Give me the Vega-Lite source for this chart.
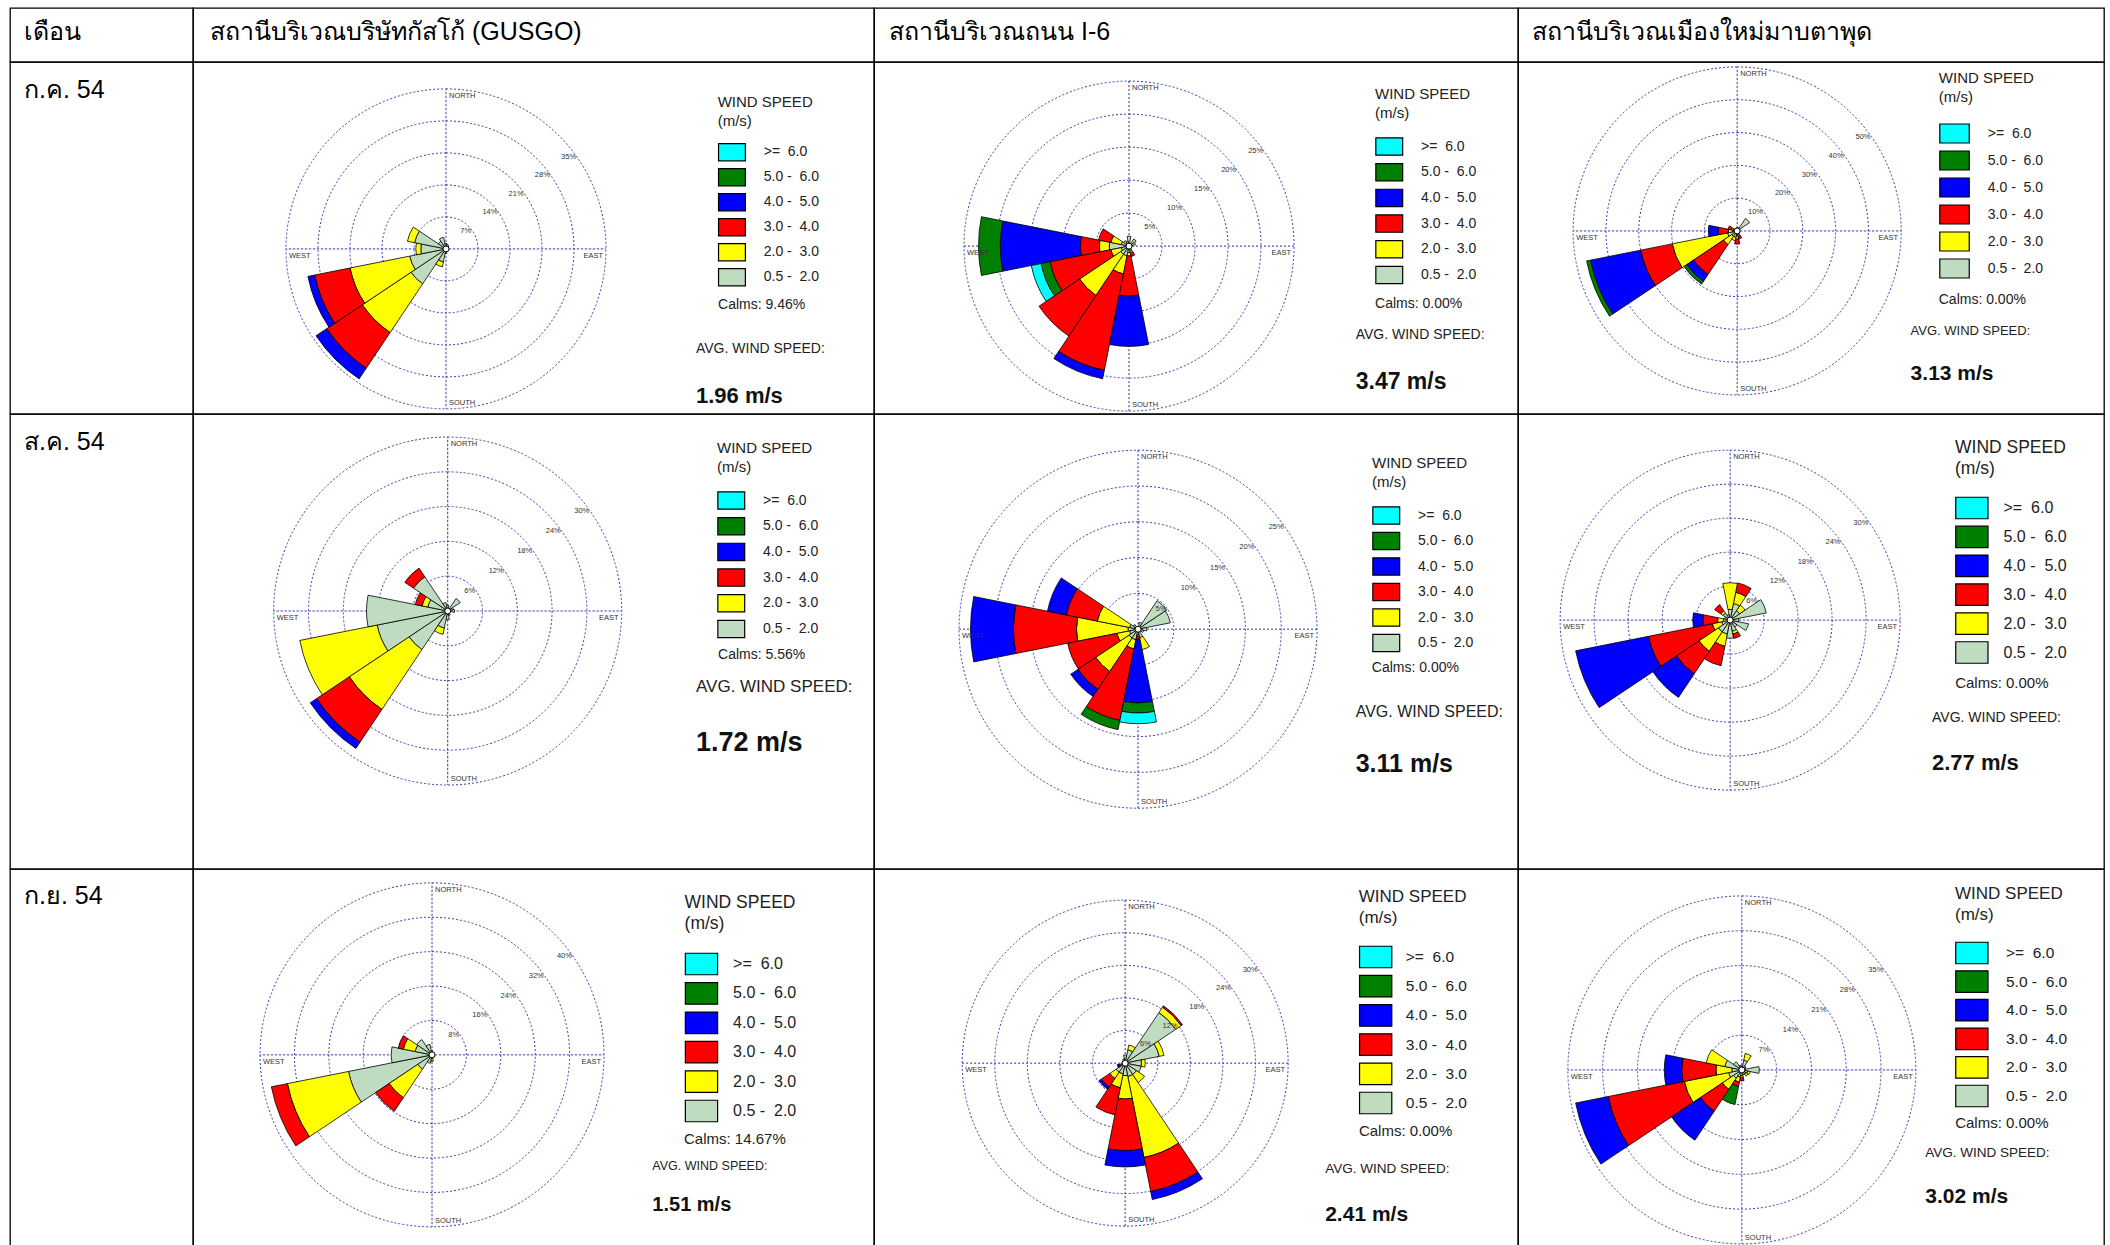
{
"$schema": "https://vega.github.io/schema/vega-lite/v6.json",
"background": "#ffffff",
"padding": {"left": 9, "top": 7, "right": 0, "bottom": 0},
"spacing": 0,
"bounds": "flush",
"align": "each",
"columns": 4,
"config": {
  "view": {"stroke": "#000000", "strokeWidth": 1.3},
  "axis": {"disable": true},
  "concat": {"spacing": 0},
  "text": {"font": "Liberation Sans", "color": "#222222"},
  "legend": {"titleFont": "Liberation Sans", "labelFont": "Liberation Sans", "titleFontWeight": "normal", "titleColor": "#222222", "labelColor": "#222222", "symbolStrokeColor": "#000000", "symbolStrokeWidth": 1.2, "symbolOpacity": 1, "titleAnchor": "start", "titleLimit": 0, "labelLimit": 0, "padding": 0}
},
"datasets": {
  "sectors": [
    {"d": 0, "a0": -11.25, "a1": 11.25}, {"d": 22.5, "a0": 11.25, "a1": 33.75}, {"d": 45, "a0": 33.75, "a1": 56.25}, {"d": 67.5, "a0": 56.25, "a1": 78.75},
    {"d": 90, "a0": 78.75, "a1": 101.25}, {"d": 112.5, "a0": 101.25, "a1": 123.75}, {"d": 135, "a0": 123.75, "a1": 146.25}, {"d": 157.5, "a0": 146.25, "a1": 168.75},
    {"d": 180, "a0": 168.75, "a1": 191.25}, {"d": 202.5, "a0": 191.25, "a1": 213.75}, {"d": 225, "a0": 213.75, "a1": 236.25}, {"d": 247.5, "a0": 236.25, "a1": 258.75},
    {"d": 270, "a0": 258.75, "a1": 281.25}, {"d": 292.5, "a0": 281.25, "a1": 303.75}, {"d": 315, "a0": 303.75, "a1": 326.25}, {"d": 337.5, "a0": 326.25, "a1": 348.75}
  ],
  "dirs": [{"d": 0, "t": "NORTH"}, {"d": 90, "t": "EAST"}, {"d": 180, "t": "SOUTH"}, {"d": 270, "t": "WEST"}],
  "info": [
    {"m": 7, "s": "G", "calm": "Calms: 9.46%", "avg": "1.96 m/s"},
    {"m": 7, "s": "I", "calm": "Calms: 0.00%", "avg": "3.47 m/s"},
    {"m": 7, "s": "M", "calm": "Calms: 0.00%", "avg": "3.13 m/s"},
    {"m": 8, "s": "G", "calm": "Calms: 5.56%", "avg": "1.72 m/s"},
    {"m": 8, "s": "I", "calm": "Calms: 0.00%", "avg": "3.11 m/s"},
    {"m": 8, "s": "M", "calm": "Calms: 0.00%", "avg": "2.77 m/s"},
    {"m": 9, "s": "G", "calm": "Calms: 14.67%", "avg": "1.51 m/s"},
    {"m": 9, "s": "I", "calm": "Calms: 0.00%", "avg": "2.41 m/s"},
    {"m": 9, "s": "M", "calm": "Calms: 0.00%", "avg": "3.02 m/s"}
  ],
  "rings": [
    {"m": 7, "s": "G", "r": 7, "lab": "7%"}, {"m": 7, "s": "G", "r": 14, "lab": "14%"}, {"m": 7, "s": "G", "r": 21, "lab": "21%"}, {"m": 7, "s": "G", "r": 28, "lab": "28%"}, {"m": 7, "s": "G", "r": 35, "lab": "35%"},
    {"m": 7, "s": "I", "r": 5, "lab": "5%"}, {"m": 7, "s": "I", "r": 10, "lab": "10%"}, {"m": 7, "s": "I", "r": 15, "lab": "15%"}, {"m": 7, "s": "I", "r": 20, "lab": "20%"}, {"m": 7, "s": "I", "r": 25, "lab": "25%"},
    {"m": 7, "s": "M", "r": 10, "lab": "10%"}, {"m": 7, "s": "M", "r": 20, "lab": "20%"}, {"m": 7, "s": "M", "r": 30, "lab": "30%"}, {"m": 7, "s": "M", "r": 40, "lab": "40%"}, {"m": 7, "s": "M", "r": 50, "lab": "50%"},
    {"m": 8, "s": "G", "r": 6, "lab": "6%"}, {"m": 8, "s": "G", "r": 12, "lab": "12%"}, {"m": 8, "s": "G", "r": 18, "lab": "18%"}, {"m": 8, "s": "G", "r": 24, "lab": "24%"}, {"m": 8, "s": "G", "r": 30, "lab": "30%"},
    {"m": 8, "s": "I", "r": 5, "lab": "5%"}, {"m": 8, "s": "I", "r": 10, "lab": "10%"}, {"m": 8, "s": "I", "r": 15, "lab": "15%"}, {"m": 8, "s": "I", "r": 20, "lab": "20%"}, {"m": 8, "s": "I", "r": 25, "lab": "25%"},
    {"m": 8, "s": "M", "r": 6, "lab": "6%"}, {"m": 8, "s": "M", "r": 12, "lab": "12%"}, {"m": 8, "s": "M", "r": 18, "lab": "18%"}, {"m": 8, "s": "M", "r": 24, "lab": "24%"}, {"m": 8, "s": "M", "r": 30, "lab": "30%"},
    {"m": 9, "s": "G", "r": 8, "lab": "8%"}, {"m": 9, "s": "G", "r": 16, "lab": "16%"}, {"m": 9, "s": "G", "r": 24, "lab": "24%"}, {"m": 9, "s": "G", "r": 32, "lab": "32%"}, {"m": 9, "s": "G", "r": 40, "lab": "40%"},
    {"m": 9, "s": "I", "r": 6, "lab": "6%"}, {"m": 9, "s": "I", "r": 12, "lab": "12%"}, {"m": 9, "s": "I", "r": 18, "lab": "18%"}, {"m": 9, "s": "I", "r": 24, "lab": "24%"}, {"m": 9, "s": "I", "r": 30, "lab": "30%"},
    {"m": 9, "s": "M", "r": 7, "lab": "7%"}, {"m": 9, "s": "M", "r": 14, "lab": "14%"}, {"m": 9, "s": "M", "r": 21, "lab": "21%"}, {"m": 9, "s": "M", "r": 28, "lab": "28%"}, {"m": 9, "s": "M", "r": 35, "lab": "35%"}
  ],
  "wind": [
    {"m": 7, "s": "G", "d": 225, "c1": 9.2, "c2": 12.8, "c3": 9.4, "c4": 2.8},
    {"m": 7, "s": "G", "d": 247.5, "c1": 8.1, "c2": 13.3, "c3": 7.9, "c4": 1.5},
    {"m": 7, "s": "G", "d": 270, "c1": 5.5, "c2": 1.1},
    {"m": 7, "s": "G", "d": 292.5, "c1": 7.0, "c2": 1.6},
    {"m": 7, "s": "G", "d": 315, "c1": 2.0},
    {"m": 7, "s": "G", "d": 337.5, "c1": 2.6},
    {"m": 7, "s": "G", "d": 0, "c1": 1.2},
    {"m": 7, "s": "G", "d": 22.5, "c1": 1.0},
    {"m": 7, "s": "G", "d": 45, "c1": 0.8},
    {"m": 7, "s": "G", "d": 112.5, "c1": 0.5},
    {"m": 7, "s": "G", "d": 135, "c1": 0.5},
    {"m": 7, "s": "G", "d": 157.5, "c1": 0.6},
    {"m": 7, "s": "G", "d": 180, "c1": 1.0},
    {"m": 7, "s": "G", "d": 202.5, "c1": 2.9, "c2": 1.1},

    {"m": 7, "s": "I", "d": 270, "c1": 3.0, "c2": 1.5, "c3": 2.9, "c4": 12.1, "c5": 3.3},
    {"m": 7, "s": "I", "d": 292.5, "c1": 1.2, "c2": 1.6, "c3": 1.9},
    {"m": 7, "s": "I", "d": 247.5, "c1": 1.2, "c2": 1.6, "c3": 9.4, "c5": 1.4, "c6": 1.5},
    {"m": 7, "s": "I", "d": 225, "c1": 1.5, "c2": 7.5, "c3": 7.4},
    {"m": 7, "s": "I", "d": 202.5, "c1": 1.5, "c2": 2.8, "c3": 14.9, "c4": 1.3},
    {"m": 7, "s": "I", "d": 180, "c1": 1.0, "c2": 0.5, "c3": 6.1, "c4": 7.6},
    {"m": 7, "s": "I", "d": 157.5, "c1": 0.8, "c2": 0.3, "c3": 0.5},
    {"m": 7, "s": "I", "d": 45, "c1": 1.3},
    {"m": 7, "s": "I", "d": 67.5, "c1": 1.0},
    {"m": 7, "s": "I", "d": 0, "c1": 1.5},
    {"m": 7, "s": "I", "d": 315, "c1": 1.0},
    {"m": 7, "s": "I", "d": 337.5, "c1": 0.8},

    {"m": 7, "s": "M", "d": 247.5, "c1": 3.0, "c2": 17.2, "c3": 9.8, "c4": 15.6, "c5": 1.2},
    {"m": 7, "s": "M", "d": 225, "c1": 2.0, "c2": 3.0, "c3": 11.0, "c4": 2.5, "c5": 1.0},
    {"m": 7, "s": "M", "d": 270, "c1": 1.5, "c2": 1.2, "c3": 3.1, "c4": 3.0},
    {"m": 7, "s": "M", "d": 292.5, "c1": 1.2, "c2": 0.6, "c3": 1.0},
    {"m": 7, "s": "M", "d": 45, "c1": 4.6},
    {"m": 7, "s": "M", "d": 180, "c1": 1.5, "c2": 1.0, "c3": 1.5},
    {"m": 7, "s": "M", "d": 157.5, "c1": 1.2, "c2": 0.5, "c3": 0.8},
    {"m": 7, "s": "M", "d": 202.5, "c1": 2.0, "c2": 1.0},
    {"m": 7, "s": "M", "d": 0, "c1": 1.0},
    {"m": 7, "s": "M", "d": 22.5, "c1": 1.0},

    {"m": 8, "s": "G", "d": 225, "c1": 8.0, "c2": 12.4, "c3": 6.8, "c4": 1.3},
    {"m": 8, "s": "G", "d": 247.5, "c1": 12.4, "c2": 13.6},
    {"m": 8, "s": "G", "d": 270, "c1": 14.0},
    {"m": 8, "s": "G", "d": 292.5, "c1": 3.5, "c2": 1.0, "c3": 1.2},
    {"m": 8, "s": "G", "d": 315, "c1": 7.1, "c3": 1.8},
    {"m": 8, "s": "G", "d": 337.5, "c1": 1.5},
    {"m": 8, "s": "G", "d": 0, "c1": 1.0},
    {"m": 8, "s": "G", "d": 45, "c1": 2.6},
    {"m": 8, "s": "G", "d": 67.5, "c1": 1.0},
    {"m": 8, "s": "G", "d": 90, "c1": 1.2},
    {"m": 8, "s": "G", "d": 157.5, "c1": 0.8},
    {"m": 8, "s": "G", "d": 180, "c1": 1.5},
    {"m": 8, "s": "G", "d": 202.5, "c1": 3.0, "c2": 1.1},

    {"m": 8, "s": "I", "d": 270, "c1": 1.4, "c2": 7.2, "c3": 8.8, "c4": 6.0},
    {"m": 8, "s": "I", "d": 292.5, "c1": 1.2, "c2": 4.6, "c3": 4.4, "c4": 2.7},
    {"m": 8, "s": "I", "d": 247.5, "c1": 1.2, "c2": 1.8, "c3": 7.0},
    {"m": 8, "s": "I", "d": 225, "c1": 1.5, "c2": 5.6, "c3": 3.0, "c4": 1.2},
    {"m": 8, "s": "I", "d": 202.5, "c1": 1.5, "c2": 1.3, "c3": 10.2, "c5": 1.3},
    {"m": 8, "s": "I", "d": 180, "c1": 0.8, "c2": 0.2, "c3": 0.4, "c4": 8.9, "c5": 1.4, "c6": 1.5},
    {"m": 8, "s": "I", "d": 157.5, "c1": 1.2, "c2": 1.7},
    {"m": 8, "s": "I", "d": 45, "c1": 4.8},
    {"m": 8, "s": "I", "d": 67.5, "c1": 4.6},
    {"m": 8, "s": "I", "d": 90, "c1": 1.2},
    {"m": 8, "s": "I", "d": 112.5, "c1": 0.8},
    {"m": 8, "s": "I", "d": 22.5, "c1": 1.0},
    {"m": 8, "s": "I", "d": 315, "c1": 0.8},

    {"m": 8, "s": "M", "d": 247.5, "c1": 1.5, "c2": 1.7, "c3": 11.5, "c4": 13.1},
    {"m": 8, "s": "M", "d": 225, "c1": 2.5, "c2": 4.1, "c3": 4.8, "c4": 5.0},
    {"m": 8, "s": "M", "d": 202.5, "c1": 2.5, "c2": 2.2, "c3": 3.5},
    {"m": 8, "s": "M", "d": 180, "c1": 3.2},
    {"m": 8, "s": "M", "d": 157.5, "c1": 2.0, "c2": 0.5, "c3": 0.8},
    {"m": 8, "s": "M", "d": 135, "c1": 1.5},
    {"m": 8, "s": "M", "d": 112.5, "c1": 3.3},
    {"m": 8, "s": "M", "d": 90, "c1": 1.5},
    {"m": 8, "s": "M", "d": 67.5, "c1": 6.5},
    {"m": 8, "s": "M", "d": 45, "c1": 2.0, "c2": 1.2},
    {"m": 8, "s": "M", "d": 22.5, "c1": 3.0, "c2": 2.0, "c3": 1.7},
    {"m": 8, "s": "M", "d": 0, "c1": 1.9, "c2": 4.7},
    {"m": 8, "s": "M", "d": 337.5, "c1": 1.0},
    {"m": 8, "s": "M", "d": 315, "c1": 1.5, "c2": 0.5, "c3": 1.3},
    {"m": 8, "s": "M", "d": 292.5, "c1": 1.0},
    {"m": 8, "s": "M", "d": 270, "c1": 1.2, "c2": 1.0, "c3": 2.6, "c4": 1.8},

    {"m": 9, "s": "G", "d": 247.5, "c1": 19.8, "c2": 14.5, "c3": 3.8},
    {"m": 9, "s": "G", "d": 225, "c1": 4.0, "c2": 8.0, "c3": 3.8},
    {"m": 9, "s": "G", "d": 270, "c1": 9.5},
    {"m": 9, "s": "G", "d": 292.5, "c1": 4.0, "c2": 2.8, "c3": 1.2},
    {"m": 9, "s": "G", "d": 315, "c1": 4.3},
    {"m": 9, "s": "G", "d": 337.5, "c1": 2.5},
    {"m": 9, "s": "G", "d": 0, "c1": 1.0},
    {"m": 9, "s": "G", "d": 22.5, "c1": 0.6},
    {"m": 9, "s": "G", "d": 180, "c1": 0.8, "c2": 0.7},
    {"m": 9, "s": "G", "d": 202.5, "c1": 2.0},

    {"m": 9, "s": "I", "d": 157.5, "c1": 2.5, "c2": 15.2, "c3": 6.4, "c4": 1.5},
    {"m": 9, "s": "I", "d": 180, "c1": 2.3, "c2": 4.3, "c3": 9.5, "c4": 3.0},
    {"m": 9, "s": "I", "d": 202.5, "c1": 2.0, "c2": 2.6, "c3": 5.1},
    {"m": 9, "s": "I", "d": 225, "c1": 2.0, "c2": 1.4, "c3": 1.9, "c4": 0.5},
    {"m": 9, "s": "I", "d": 247.5, "c1": 0.8, "c2": 0.2, "c3": 0.2, "c4": 0.3},
    {"m": 9, "s": "I", "d": 270, "c1": 0.6},
    {"m": 9, "s": "I", "d": 292.5, "c1": 0.5},
    {"m": 9, "s": "I", "d": 315, "c1": 0.6},
    {"m": 9, "s": "I", "d": 337.5, "c1": 0.8},
    {"m": 9, "s": "I", "d": 0, "c1": 1.5},
    {"m": 9, "s": "I", "d": 22.5, "c1": 2.5, "c2": 0.9},
    {"m": 9, "s": "I", "d": 45, "c1": 11.2, "c2": 1.2, "c3": 0.3},
    {"m": 9, "s": "I", "d": 67.5, "c1": 6.4, "c2": 0.9},
    {"m": 9, "s": "I", "d": 90, "c1": 3.0, "c2": 0.7},
    {"m": 9, "s": "I", "d": 112.5, "c1": 3.0},
    {"m": 9, "s": "I", "d": 135, "c1": 2.5, "c2": 1.8},

    {"m": 9, "s": "M", "d": 247.5, "c1": 2.7, "c2": 9.1, "c3": 15.6, "c4": 6.7},
    {"m": 9, "s": "M", "d": 270, "c1": 2.0, "c2": 3.2, "c3": 6.9, "c4": 3.5},
    {"m": 9, "s": "M", "d": 225, "c1": 2.0, "c2": 2.7, "c3": 5.3, "c4": 7.0},
    {"m": 9, "s": "M", "d": 202.5, "c1": 1.5, "c2": 1.0, "c3": 0.9, "c5": 3.7},
    {"m": 9, "s": "M", "d": 292.5, "c1": 3.5, "c2": 3.8},
    {"m": 9, "s": "M", "d": 315, "c1": 2.0},
    {"m": 9, "s": "M", "d": 337.5, "c1": 1.0},
    {"m": 9, "s": "M", "d": 0, "c1": 0.8},
    {"m": 9, "s": "M", "d": 22.5, "c1": 2.0, "c2": 1.4},
    {"m": 9, "s": "M", "d": 45, "c1": 1.0},
    {"m": 9, "s": "M", "d": 67.5, "c1": 0.8},
    {"m": 9, "s": "M", "d": 90, "c1": 3.5},
    {"m": 9, "s": "M", "d": 112.5, "c1": 1.2, "c2": 0.5},
    {"m": 9, "s": "M", "d": 135, "c1": 1.0, "c2": 0.5},
    {"m": 9, "s": "M", "d": 157.5, "c1": 1.0},
    {"m": 9, "s": "M", "d": 180, "c1": 1.2, "c2": 0.4, "c3": 0.6}
  ]
},
"resolve": {"scale": {"x": "independent", "y": "independent", "theta": "independent", "radius": "independent", "color": "independent"}, "legend": {"color": "independent"}},
"concat": [
  {"width": 183, "height": 54, "data": {"values": [{"t": "เดือน"}]}, "mark": {"type": "text", "align": "left", "baseline": "middle", "dx": 14, "font": "sans-serif", "fontSize": 25, "color": "#000000"}, "encoding": {"x": {"datum": 0, "type": "quantitative", "scale": {"domain": [0, 1], "nice": false, "zero": false}}, "y": {"datum": 0.45, "type": "quantitative", "scale": {"domain": [0, 1], "nice": false, "zero": false, "reverse": true}}, "text": {"field": "t"}}},
  {"width": 681, "height": 54, "data": {"values": [{"t": "สถานีบริเวณบริษัทกัสโก้ (GUSGO)"}]}, "mark": {"type": "text", "align": "left", "baseline": "middle", "dx": 17, "font": "sans-serif", "fontSize": 25, "color": "#000000"}, "encoding": {"x": {"datum": 0, "type": "quantitative", "scale": {"domain": [0, 1], "nice": false, "zero": false}}, "y": {"datum": 0.45, "type": "quantitative", "scale": {"domain": [0, 1], "nice": false, "zero": false, "reverse": true}}, "text": {"field": "t"}}},
  {"width": 644, "height": 54, "data": {"values": [{"t": "สถานีบริเวณถนน I-6"}]}, "mark": {"type": "text", "align": "left", "baseline": "middle", "dx": 15, "font": "sans-serif", "fontSize": 25, "color": "#000000"}, "encoding": {"x": {"datum": 0, "type": "quantitative", "scale": {"domain": [0, 1], "nice": false, "zero": false}}, "y": {"datum": 0.45, "type": "quantitative", "scale": {"domain": [0, 1], "nice": false, "zero": false, "reverse": true}}, "text": {"field": "t"}}},
  {"width": 586, "height": 54, "data": {"values": [{"t": "สถานีบริเวณเมืองใหม่มาบตาพุด"}]}, "mark": {"type": "text", "align": "left", "baseline": "middle", "dx": 14, "font": "sans-serif", "fontSize": 25, "color": "#000000"}, "encoding": {"x": {"datum": 0, "type": "quantitative", "scale": {"domain": [0, 1], "nice": false, "zero": false}}, "y": {"datum": 0.45, "type": "quantitative", "scale": {"domain": [0, 1], "nice": false, "zero": false, "reverse": true}}, "text": {"field": "t"}}},

  {"width": 183, "height": 352, "data": {"values": [{"t": "ก.ค. 54"}]}, "mark": {"type": "text", "align": "left", "baseline": "middle", "dx": 14, "font": "sans-serif", "fontSize": 25, "color": "#000000"}, "encoding": {"x": {"datum": 0, "type": "quantitative", "scale": {"domain": [0, 1], "nice": false, "zero": false}}, "y": {"datum": 0.0795, "type": "quantitative", "scale": {"domain": [0, 1], "nice": false, "zero": false, "reverse": true}}, "text": {"field": "t"}}},
  {"width": 681, "height": 352,
   "encoding": {"x": {"datum": 0.3715, "type": "quantitative", "scale": {"domain": [0, 1], "nice": false, "zero": false}}, "y": {"datum": 0.531, "type": "quantitative", "scale": {"domain": [0, 1], "nice": false, "zero": false, "reverse": true}}},
   "layer": [
    {"data": {"name": "rings"}, "transform": [{"filter": "datum.m == 7 && datum.s == 'G'"}], "mark": {"type": "arc", "theta": 0, "theta2": 6.2832, "filled": false, "stroke": "#3c3caa", "strokeWidth": 1, "strokeDash": [2, 2]}, "encoding": {"radius": {"field": "r", "type": "quantitative", "stack": null, "scale": {"type": "linear", "domain": [0, 35], "range": [0, 160], "nice": false, "zero": true}}}},
    {"data": {"name": "dirs"}, "mark": {"type": "arc", "filled": false, "stroke": "#3c3caa", "strokeWidth": 1, "strokeDash": [1.2, 2.8]}, "encoding": {"theta": {"field": "d", "type": "quantitative", "stack": null, "scale": {"domain": [0, 360], "range": [0, 6.283185307179586], "nice": false, "zero": false}}, "theta2": {"field": "d"}, "radius": {"datum": 35, "type": "quantitative", "scale": {"type": "linear", "domain": [0, 35], "range": [0, 160], "nice": false, "zero": true}}, "radius2": {"datum": 0}}},
    {"data": {"name": "wind"}, "transform": [{"filter": "datum.m == 7 && datum.s == 'G'"}, {"fold": ["c1", "c2", "c3", "c4", "c5", "c6"], "as": ["key", "f"]}, {"filter": "datum.f > 0"}, {"lookup": "d", "from": {"data": {"name": "sectors"}, "key": "d", "fields": ["a0", "a1"]}}, {"stack": "f", "groupby": ["d"], "sort": [{"field": "key", "order": "ascending"}], "as": ["r0", "r1"]}],
     "mark": {"type": "arc", "stroke": "#000000", "strokeWidth": 0.8},
     "encoding": {"theta": {"field": "a0", "type": "quantitative", "stack": null, "scale": {"domain": [0, 360], "range": [0, 6.283185307179586], "nice": false, "zero": false}}, "theta2": {"field": "a1"}, "radius": {"field": "r1", "type": "quantitative", "stack": null, "scale": {"type": "linear", "domain": [0, 35], "range": [0, 160], "nice": false, "zero": true}}, "radius2": {"field": "r0"},
      "color": {"field": "key", "type": "nominal", "scale": {"domain": ["c6", "c5", "c4", "c3", "c2", "c1"], "range": ["#00ffff", "#008000", "#0000ff", "#ff0000", "#ffff00", "#c0dcc0"]},
       "legend": {"orient": "none", "legendX": 524.7, "legendY": 32.7, "title": ["WIND SPEED", "(m/s)"], "titleFontSize": 15, "titleLineHeight": 19, "titlePadding": 14, "labelFontSize": 14, "symbolSize": 300, "symbolType": "M-1,-1H2.1V1H-1Z", "labelOffset": 27, "rowPadding": 2.0, "labelExpr": "datum.label == 'c6' ? '>=\u00a0\u00a06.0' : datum.label == 'c5' ? '\u00a05.0 -\u00a0\u00a06.0' : datum.label == 'c4' ? '\u00a04.0 -\u00a0\u00a05.0' : datum.label == 'c3' ? '\u00a03.0 -\u00a0\u00a04.0' : datum.label == 'c2' ? '\u00a02.0 -\u00a0\u00a03.0' : '\u00a00.5 -\u00a0\u00a02.0'"}}}},
    {"data": {"values": [{}]}, "mark": {"type": "point", "shape": "circle", "size": 36, "filled": true, "fill": "#ffffff", "stroke": "#000000", "strokeWidth": 1, "opacity": 1}},
    {"data": {"name": "rings"}, "transform": [{"filter": "datum.m == 7 && datum.s == 'G'"}], "mark": {"type": "text", "align": "right", "baseline": "middle", "fontSize": 7.5, "color": "#333333", "dx": -1}, "encoding": {"theta": {"datum": 55, "type": "quantitative", "scale": {"domain": [0, 360], "range": [0, 6.283185307179586], "nice": false, "zero": false}}, "radius": {"field": "r", "type": "quantitative", "scale": {"type": "linear", "domain": [0, 35], "range": [0, 160], "nice": false, "zero": true}}, "text": {"field": "lab"}}},
    {"data": {"name": "dirs"}, "mark": {"type": "text", "fontSize": 7.5, "color": "#333333", "align": {"expr": "datum.t == 'EAST' ? 'right' : 'left'"}, "baseline": {"expr": "datum.t == 'SOUTH' ? 'bottom' : 'top'"}, "dx": {"expr": "datum.t == 'EAST' ? -3 : 3"}, "dy": {"expr": "datum.t == 'SOUTH' ? -2 : 3"}}, "encoding": {"theta": {"field": "d", "type": "quantitative", "scale": {"domain": [0, 360], "range": [0, 6.283185307179586], "nice": false, "zero": false}}, "radius": {"datum": 35, "type": "quantitative", "scale": {"type": "linear", "domain": [0, 35], "range": [0, 160], "nice": false, "zero": true}}, "text": {"field": "t"}}},
    {"data": {"name": "info"}, "transform": [{"filter": "datum.m == 7 && datum.s == 'G'"}], "mark": {"type": "text", "align": "left", "baseline": "middle", "fontSize": 14}, "encoding": {"x": {"datum": 0.771, "type": "quantitative", "scale": {"domain": [0, 1], "nice": false, "zero": false}}, "y": {"datum": 0.69, "type": "quantitative", "scale": {"domain": [0, 1], "nice": false, "zero": false, "reverse": true}}, "text": {"field": "calm"}}},
    {"data": {"values": [{}]}, "mark": {"type": "text", "text": "AVG. WIND SPEED:", "align": "left", "baseline": "middle", "fontSize": 14}, "encoding": {"x": {"datum": 0.7386, "type": "quantitative", "scale": {"domain": [0, 1], "nice": false, "zero": false}}, "y": {"datum": 0.815, "type": "quantitative", "scale": {"domain": [0, 1], "nice": false, "zero": false, "reverse": true}}}},
    {"data": {"name": "info"}, "transform": [{"filter": "datum.m == 7 && datum.s == 'G'"}], "mark": {"type": "text", "align": "left", "baseline": "middle", "fontSize": 22, "fontWeight": "bold", "color": "#111111"}, "encoding": {"x": {"datum": 0.7386, "type": "quantitative", "scale": {"domain": [0, 1], "nice": false, "zero": false}}, "y": {"datum": 0.949, "type": "quantitative", "scale": {"domain": [0, 1], "nice": false, "zero": false, "reverse": true}}, "text": {"field": "avg"}}}
   ]},
  {"width": 644, "height": 352,
   "encoding": {"x": {"datum": 0.396, "type": "quantitative", "scale": {"domain": [0, 1], "nice": false, "zero": false}}, "y": {"datum": 0.523, "type": "quantitative", "scale": {"domain": [0, 1], "nice": false, "zero": false, "reverse": true}}},
   "layer": [
    {"data": {"name": "rings"}, "transform": [{"filter": "datum.m == 7 && datum.s == 'I'"}], "mark": {"type": "arc", "theta": 0, "theta2": 6.2832, "filled": false, "stroke": "#3c3caa", "strokeWidth": 1, "strokeDash": [2, 2]}, "encoding": {"radius": {"field": "r", "type": "quantitative", "stack": null, "scale": {"type": "linear", "domain": [0, 25], "range": [0, 165], "nice": false, "zero": true}}}},
    {"data": {"name": "dirs"}, "mark": {"type": "arc", "filled": false, "stroke": "#3c3caa", "strokeWidth": 1, "strokeDash": [1.2, 2.8]}, "encoding": {"theta": {"field": "d", "type": "quantitative", "stack": null, "scale": {"domain": [0, 360], "range": [0, 6.283185307179586], "nice": false, "zero": false}}, "theta2": {"field": "d"}, "radius": {"datum": 25, "type": "quantitative", "scale": {"type": "linear", "domain": [0, 25], "range": [0, 165], "nice": false, "zero": true}}, "radius2": {"datum": 0}}},
    {"data": {"name": "wind"}, "transform": [{"filter": "datum.m == 7 && datum.s == 'I'"}, {"fold": ["c1", "c2", "c3", "c4", "c5", "c6"], "as": ["key", "f"]}, {"filter": "datum.f > 0"}, {"lookup": "d", "from": {"data": {"name": "sectors"}, "key": "d", "fields": ["a0", "a1"]}}, {"stack": "f", "groupby": ["d"], "sort": [{"field": "key", "order": "ascending"}], "as": ["r0", "r1"]}],
     "mark": {"type": "arc", "stroke": "#000000", "strokeWidth": 0.8},
     "encoding": {"theta": {"field": "a0", "type": "quantitative", "stack": null, "scale": {"domain": [0, 360], "range": [0, 6.283185307179586], "nice": false, "zero": false}}, "theta2": {"field": "a1"}, "radius": {"field": "r1", "type": "quantitative", "stack": null, "scale": {"type": "linear", "domain": [0, 25], "range": [0, 165], "nice": false, "zero": true}}, "radius2": {"field": "r0"},
      "color": {"field": "key", "type": "nominal", "scale": {"domain": ["c6", "c5", "c4", "c3", "c2", "c1"], "range": ["#00ffff", "#008000", "#0000ff", "#ff0000", "#ffff00", "#c0dcc0"]},
       "legend": {"orient": "none", "legendX": 501, "legendY": 25, "title": ["WIND SPEED", "(m/s)"], "titleFontSize": 15, "titleLineHeight": 19, "titlePadding": 16, "labelFontSize": 14, "symbolSize": 300, "symbolType": "M-1,-1H2.1V1H-1Z", "labelOffset": 27, "rowPadding": 2.7, "labelExpr": "datum.label == 'c6' ? '>=\u00a0\u00a06.0' : datum.label == 'c5' ? '\u00a05.0 -\u00a0\u00a06.0' : datum.label == 'c4' ? '\u00a04.0 -\u00a0\u00a05.0' : datum.label == 'c3' ? '\u00a03.0 -\u00a0\u00a04.0' : datum.label == 'c2' ? '\u00a02.0 -\u00a0\u00a03.0' : '\u00a00.5 -\u00a0\u00a02.0'"}}}},
    {"data": {"values": [{}]}, "mark": {"type": "point", "shape": "circle", "size": 36, "filled": true, "fill": "#ffffff", "stroke": "#000000", "strokeWidth": 1, "opacity": 1}},
    {"data": {"name": "rings"}, "transform": [{"filter": "datum.m == 7 && datum.s == 'I'"}], "mark": {"type": "text", "align": "right", "baseline": "middle", "fontSize": 7.5, "color": "#333333", "dx": -1}, "encoding": {"theta": {"datum": 55, "type": "quantitative", "scale": {"domain": [0, 360], "range": [0, 6.283185307179586], "nice": false, "zero": false}}, "radius": {"field": "r", "type": "quantitative", "scale": {"type": "linear", "domain": [0, 25], "range": [0, 165], "nice": false, "zero": true}}, "text": {"field": "lab"}}},
    {"data": {"name": "dirs"}, "mark": {"type": "text", "fontSize": 7.5, "color": "#333333", "align": {"expr": "datum.t == 'EAST' ? 'right' : 'left'"}, "baseline": {"expr": "datum.t == 'SOUTH' ? 'bottom' : 'top'"}, "dx": {"expr": "datum.t == 'EAST' ? -3 : 3"}, "dy": {"expr": "datum.t == 'SOUTH' ? -2 : 3"}}, "encoding": {"theta": {"field": "d", "type": "quantitative", "scale": {"domain": [0, 360], "range": [0, 6.283185307179586], "nice": false, "zero": false}}, "radius": {"datum": 25, "type": "quantitative", "scale": {"type": "linear", "domain": [0, 25], "range": [0, 165], "nice": false, "zero": true}}, "text": {"field": "t"}}},
    {"data": {"name": "info"}, "transform": [{"filter": "datum.m == 7 && datum.s == 'I'"}], "mark": {"type": "text", "align": "left", "baseline": "middle", "fontSize": 14}, "encoding": {"x": {"datum": 0.778, "type": "quantitative", "scale": {"domain": [0, 1], "nice": false, "zero": false}}, "y": {"datum": 0.687, "type": "quantitative", "scale": {"domain": [0, 1], "nice": false, "zero": false, "reverse": true}}, "text": {"field": "calm"}}},
    {"data": {"values": [{}]}, "mark": {"type": "text", "text": "AVG. WIND SPEED:", "align": "left", "baseline": "middle", "fontSize": 14}, "encoding": {"x": {"datum": 0.748, "type": "quantitative", "scale": {"domain": [0, 1], "nice": false, "zero": false}}, "y": {"datum": 0.775, "type": "quantitative", "scale": {"domain": [0, 1], "nice": false, "zero": false, "reverse": true}}}},
    {"data": {"name": "info"}, "transform": [{"filter": "datum.m == 7 && datum.s == 'I'"}], "mark": {"type": "text", "align": "left", "baseline": "middle", "fontSize": 23, "fontWeight": "bold", "color": "#111111"}, "encoding": {"x": {"datum": 0.748, "type": "quantitative", "scale": {"domain": [0, 1], "nice": false, "zero": false}}, "y": {"datum": 0.909, "type": "quantitative", "scale": {"domain": [0, 1], "nice": false, "zero": false, "reverse": true}}, "text": {"field": "avg"}}}
   ]},
  {"width": 586, "height": 352,
   "encoding": {"x": {"datum": 0.374, "type": "quantitative", "scale": {"domain": [0, 1], "nice": false, "zero": false}}, "y": {"datum": 0.48, "type": "quantitative", "scale": {"domain": [0, 1], "nice": false, "zero": false, "reverse": true}}},
   "layer": [
    {"data": {"name": "rings"}, "transform": [{"filter": "datum.m == 7 && datum.s == 'M'"}], "mark": {"type": "arc", "theta": 0, "theta2": 6.2832, "filled": false, "stroke": "#3c3caa", "strokeWidth": 1, "strokeDash": [2, 2]}, "encoding": {"radius": {"field": "r", "type": "quantitative", "stack": null, "scale": {"type": "linear", "domain": [0, 50], "range": [0, 164], "nice": false, "zero": true}}}},
    {"data": {"name": "dirs"}, "mark": {"type": "arc", "filled": false, "stroke": "#3c3caa", "strokeWidth": 1, "strokeDash": [1.2, 2.8]}, "encoding": {"theta": {"field": "d", "type": "quantitative", "stack": null, "scale": {"domain": [0, 360], "range": [0, 6.283185307179586], "nice": false, "zero": false}}, "theta2": {"field": "d"}, "radius": {"datum": 50, "type": "quantitative", "scale": {"type": "linear", "domain": [0, 50], "range": [0, 164], "nice": false, "zero": true}}, "radius2": {"datum": 0}}},
    {"data": {"name": "wind"}, "transform": [{"filter": "datum.m == 7 && datum.s == 'M'"}, {"fold": ["c1", "c2", "c3", "c4", "c5", "c6"], "as": ["key", "f"]}, {"filter": "datum.f > 0"}, {"lookup": "d", "from": {"data": {"name": "sectors"}, "key": "d", "fields": ["a0", "a1"]}}, {"stack": "f", "groupby": ["d"], "sort": [{"field": "key", "order": "ascending"}], "as": ["r0", "r1"]}],
     "mark": {"type": "arc", "stroke": "#000000", "strokeWidth": 0.8},
     "encoding": {"theta": {"field": "a0", "type": "quantitative", "stack": null, "scale": {"domain": [0, 360], "range": [0, 6.283185307179586], "nice": false, "zero": false}}, "theta2": {"field": "a1"}, "radius": {"field": "r1", "type": "quantitative", "stack": null, "scale": {"type": "linear", "domain": [0, 50], "range": [0, 164], "nice": false, "zero": true}}, "radius2": {"field": "r0"},
      "color": {"field": "key", "type": "nominal", "scale": {"domain": ["c6", "c5", "c4", "c3", "c2", "c1"], "range": ["#00ffff", "#008000", "#0000ff", "#ff0000", "#ffff00", "#c0dcc0"]},
       "legend": {"orient": "none", "legendX": 420.8, "legendY": 9, "title": ["WIND SPEED", "(m/s)"], "titleFontSize": 15, "titleLineHeight": 19, "titlePadding": 18, "labelFontSize": 14, "symbolSize": 361, "symbolType": "M-1,-1H2.1V1H-1Z", "labelOffset": 28, "rowPadding": 2.0, "labelExpr": "datum.label == 'c6' ? '>=\u00a0\u00a06.0' : datum.label == 'c5' ? '\u00a05.0 -\u00a0\u00a06.0' : datum.label == 'c4' ? '\u00a04.0 -\u00a0\u00a05.0' : datum.label == 'c3' ? '\u00a03.0 -\u00a0\u00a04.0' : datum.label == 'c2' ? '\u00a02.0 -\u00a0\u00a03.0' : '\u00a00.5 -\u00a0\u00a02.0'"}}}},
    {"data": {"values": [{}]}, "mark": {"type": "point", "shape": "circle", "size": 36, "filled": true, "fill": "#ffffff", "stroke": "#000000", "strokeWidth": 1, "opacity": 1}},
    {"data": {"name": "rings"}, "transform": [{"filter": "datum.m == 7 && datum.s == 'M'"}], "mark": {"type": "text", "align": "right", "baseline": "middle", "fontSize": 7.5, "color": "#333333", "dx": -1}, "encoding": {"theta": {"datum": 55, "type": "quantitative", "scale": {"domain": [0, 360], "range": [0, 6.283185307179586], "nice": false, "zero": false}}, "radius": {"field": "r", "type": "quantitative", "scale": {"type": "linear", "domain": [0, 50], "range": [0, 164], "nice": false, "zero": true}}, "text": {"field": "lab"}}},
    {"data": {"name": "dirs"}, "mark": {"type": "text", "fontSize": 7.5, "color": "#333333", "align": {"expr": "datum.t == 'EAST' ? 'right' : 'left'"}, "baseline": {"expr": "datum.t == 'SOUTH' ? 'bottom' : 'top'"}, "dx": {"expr": "datum.t == 'EAST' ? -3 : 3"}, "dy": {"expr": "datum.t == 'SOUTH' ? -2 : 3"}}, "encoding": {"theta": {"field": "d", "type": "quantitative", "scale": {"domain": [0, 360], "range": [0, 6.283185307179586], "nice": false, "zero": false}}, "radius": {"datum": 50, "type": "quantitative", "scale": {"type": "linear", "domain": [0, 50], "range": [0, 164], "nice": false, "zero": true}}, "text": {"field": "t"}}},
    {"data": {"name": "info"}, "transform": [{"filter": "datum.m == 7 && datum.s == 'M'"}], "mark": {"type": "text", "align": "left", "baseline": "middle", "fontSize": 14}, "encoding": {"x": {"datum": 0.718, "type": "quantitative", "scale": {"domain": [0, 1], "nice": false, "zero": false}}, "y": {"datum": 0.675, "type": "quantitative", "scale": {"domain": [0, 1], "nice": false, "zero": false, "reverse": true}}, "text": {"field": "calm"}}},
    {"data": {"values": [{}]}, "mark": {"type": "text", "text": "AVG. WIND SPEED:", "align": "left", "baseline": "middle", "fontSize": 13}, "encoding": {"x": {"datum": 0.67, "type": "quantitative", "scale": {"domain": [0, 1], "nice": false, "zero": false}}, "y": {"datum": 0.763, "type": "quantitative", "scale": {"domain": [0, 1], "nice": false, "zero": false, "reverse": true}}}},
    {"data": {"name": "info"}, "transform": [{"filter": "datum.m == 7 && datum.s == 'M'"}], "mark": {"type": "text", "align": "left", "baseline": "middle", "fontSize": 21, "fontWeight": "bold", "color": "#111111"}, "encoding": {"x": {"datum": 0.67, "type": "quantitative", "scale": {"domain": [0, 1], "nice": false, "zero": false}}, "y": {"datum": 0.886, "type": "quantitative", "scale": {"domain": [0, 1], "nice": false, "zero": false, "reverse": true}}, "text": {"field": "avg"}}}
   ]},

  {"width": 183, "height": 455, "data": {"values": [{"t": "ส.ค. 54"}]}, "mark": {"type": "text", "align": "left", "baseline": "middle", "dx": 14, "font": "sans-serif", "fontSize": 25, "color": "#000000"}, "encoding": {"x": {"datum": 0, "type": "quantitative", "scale": {"domain": [0, 1], "nice": false, "zero": false}}, "y": {"datum": 0.0615, "type": "quantitative", "scale": {"domain": [0, 1], "nice": false, "zero": false, "reverse": true}}, "text": {"field": "t"}}},
  {"width": 681, "height": 455,
   "encoding": {"x": {"datum": 0.374, "type": "quantitative", "scale": {"domain": [0, 1], "nice": false, "zero": false}}, "y": {"datum": 0.433, "type": "quantitative", "scale": {"domain": [0, 1], "nice": false, "zero": false, "reverse": true}}},
   "layer": [
    {"data": {"name": "rings"}, "transform": [{"filter": "datum.m == 8 && datum.s == 'G'"}], "mark": {"type": "arc", "theta": 0, "theta2": 6.2832, "filled": false, "stroke": "#3c3caa", "strokeWidth": 1, "strokeDash": [2, 2]}, "encoding": {"radius": {"field": "r", "type": "quantitative", "stack": null, "scale": {"type": "linear", "domain": [0, 30], "range": [0, 174], "nice": false, "zero": true}}}},
    {"data": {"name": "dirs"}, "mark": {"type": "arc", "filled": false, "stroke": "#3c3caa", "strokeWidth": 1, "strokeDash": [1.2, 2.8]}, "encoding": {"theta": {"field": "d", "type": "quantitative", "stack": null, "scale": {"domain": [0, 360], "range": [0, 6.283185307179586], "nice": false, "zero": false}}, "theta2": {"field": "d"}, "radius": {"datum": 30, "type": "quantitative", "scale": {"type": "linear", "domain": [0, 30], "range": [0, 174], "nice": false, "zero": true}}, "radius2": {"datum": 0}}},
    {"data": {"name": "wind"}, "transform": [{"filter": "datum.m == 8 && datum.s == 'G'"}, {"fold": ["c1", "c2", "c3", "c4", "c5", "c6"], "as": ["key", "f"]}, {"filter": "datum.f > 0"}, {"lookup": "d", "from": {"data": {"name": "sectors"}, "key": "d", "fields": ["a0", "a1"]}}, {"stack": "f", "groupby": ["d"], "sort": [{"field": "key", "order": "ascending"}], "as": ["r0", "r1"]}],
     "mark": {"type": "arc", "stroke": "#000000", "strokeWidth": 0.8},
     "encoding": {"theta": {"field": "a0", "type": "quantitative", "stack": null, "scale": {"domain": [0, 360], "range": [0, 6.283185307179586], "nice": false, "zero": false}}, "theta2": {"field": "a1"}, "radius": {"field": "r1", "type": "quantitative", "stack": null, "scale": {"type": "linear", "domain": [0, 30], "range": [0, 174], "nice": false, "zero": true}}, "radius2": {"field": "r0"},
      "color": {"field": "key", "type": "nominal", "scale": {"domain": ["c6", "c5", "c4", "c3", "c2", "c1"], "range": ["#00ffff", "#008000", "#0000ff", "#ff0000", "#ffff00", "#c0dcc0"]},
       "legend": {"orient": "none", "legendX": 524, "legendY": 27, "title": ["WIND SPEED", "(m/s)"], "titleFontSize": 15, "titleLineHeight": 19, "titlePadding": 16, "labelFontSize": 14, "symbolSize": 300, "symbolType": "M-1,-1H2.1V1H-1Z", "labelOffset": 27, "rowPadding": 2.7, "labelExpr": "datum.label == 'c6' ? '>=\u00a0\u00a06.0' : datum.label == 'c5' ? '\u00a05.0 -\u00a0\u00a06.0' : datum.label == 'c4' ? '\u00a04.0 -\u00a0\u00a05.0' : datum.label == 'c3' ? '\u00a03.0 -\u00a0\u00a04.0' : datum.label == 'c2' ? '\u00a02.0 -\u00a0\u00a03.0' : '\u00a00.5 -\u00a0\u00a02.0'"}}}},
    {"data": {"values": [{}]}, "mark": {"type": "point", "shape": "circle", "size": 36, "filled": true, "fill": "#ffffff", "stroke": "#000000", "strokeWidth": 1, "opacity": 1}},
    {"data": {"name": "rings"}, "transform": [{"filter": "datum.m == 8 && datum.s == 'G'"}], "mark": {"type": "text", "align": "right", "baseline": "middle", "fontSize": 7.5, "color": "#333333", "dx": -1}, "encoding": {"theta": {"datum": 55, "type": "quantitative", "scale": {"domain": [0, 360], "range": [0, 6.283185307179586], "nice": false, "zero": false}}, "radius": {"field": "r", "type": "quantitative", "scale": {"type": "linear", "domain": [0, 30], "range": [0, 174], "nice": false, "zero": true}}, "text": {"field": "lab"}}},
    {"data": {"name": "dirs"}, "mark": {"type": "text", "fontSize": 7.5, "color": "#333333", "align": {"expr": "datum.t == 'EAST' ? 'right' : 'left'"}, "baseline": {"expr": "datum.t == 'SOUTH' ? 'bottom' : 'top'"}, "dx": {"expr": "datum.t == 'EAST' ? -3 : 3"}, "dy": {"expr": "datum.t == 'SOUTH' ? -2 : 3"}}, "encoding": {"theta": {"field": "d", "type": "quantitative", "scale": {"domain": [0, 360], "range": [0, 6.283185307179586], "nice": false, "zero": false}}, "radius": {"datum": 30, "type": "quantitative", "scale": {"type": "linear", "domain": [0, 30], "range": [0, 174], "nice": false, "zero": true}}, "text": {"field": "t"}}},
    {"data": {"name": "info"}, "transform": [{"filter": "datum.m == 8 && datum.s == 'G'"}], "mark": {"type": "text", "align": "left", "baseline": "middle", "fontSize": 14}, "encoding": {"x": {"datum": 0.771, "type": "quantitative", "scale": {"domain": [0, 1], "nice": false, "zero": false}}, "y": {"datum": 0.53, "type": "quantitative", "scale": {"domain": [0, 1], "nice": false, "zero": false, "reverse": true}}, "text": {"field": "calm"}}},
    {"data": {"values": [{}]}, "mark": {"type": "text", "text": "AVG. WIND SPEED:", "align": "left", "baseline": "middle", "fontSize": 17}, "encoding": {"x": {"datum": 0.7386, "type": "quantitative", "scale": {"domain": [0, 1], "nice": false, "zero": false}}, "y": {"datum": 0.601, "type": "quantitative", "scale": {"domain": [0, 1], "nice": false, "zero": false, "reverse": true}}}},
    {"data": {"name": "info"}, "transform": [{"filter": "datum.m == 8 && datum.s == 'G'"}], "mark": {"type": "text", "align": "left", "baseline": "middle", "fontSize": 27, "fontWeight": "bold", "color": "#111111"}, "encoding": {"x": {"datum": 0.7386, "type": "quantitative", "scale": {"domain": [0, 1], "nice": false, "zero": false}}, "y": {"datum": 0.722, "type": "quantitative", "scale": {"domain": [0, 1], "nice": false, "zero": false, "reverse": true}}, "text": {"field": "avg"}}}
   ]},
  {"width": 644, "height": 455,
   "encoding": {"x": {"datum": 0.41, "type": "quantitative", "scale": {"domain": [0, 1], "nice": false, "zero": false}}, "y": {"datum": 0.473, "type": "quantitative", "scale": {"domain": [0, 1], "nice": false, "zero": false, "reverse": true}}},
   "layer": [
    {"data": {"name": "rings"}, "transform": [{"filter": "datum.m == 8 && datum.s == 'I'"}], "mark": {"type": "arc", "theta": 0, "theta2": 6.2832, "filled": false, "stroke": "#3c3caa", "strokeWidth": 1, "strokeDash": [2, 2]}, "encoding": {"radius": {"field": "r", "type": "quantitative", "stack": null, "scale": {"type": "linear", "domain": [0, 25], "range": [0, 179], "nice": false, "zero": true}}}},
    {"data": {"name": "dirs"}, "mark": {"type": "arc", "filled": false, "stroke": "#3c3caa", "strokeWidth": 1, "strokeDash": [1.2, 2.8]}, "encoding": {"theta": {"field": "d", "type": "quantitative", "stack": null, "scale": {"domain": [0, 360], "range": [0, 6.283185307179586], "nice": false, "zero": false}}, "theta2": {"field": "d"}, "radius": {"datum": 25, "type": "quantitative", "scale": {"type": "linear", "domain": [0, 25], "range": [0, 179], "nice": false, "zero": true}}, "radius2": {"datum": 0}}},
    {"data": {"name": "wind"}, "transform": [{"filter": "datum.m == 8 && datum.s == 'I'"}, {"fold": ["c1", "c2", "c3", "c4", "c5", "c6"], "as": ["key", "f"]}, {"filter": "datum.f > 0"}, {"lookup": "d", "from": {"data": {"name": "sectors"}, "key": "d", "fields": ["a0", "a1"]}}, {"stack": "f", "groupby": ["d"], "sort": [{"field": "key", "order": "ascending"}], "as": ["r0", "r1"]}],
     "mark": {"type": "arc", "stroke": "#000000", "strokeWidth": 0.8},
     "encoding": {"theta": {"field": "a0", "type": "quantitative", "stack": null, "scale": {"domain": [0, 360], "range": [0, 6.283185307179586], "nice": false, "zero": false}}, "theta2": {"field": "a1"}, "radius": {"field": "r1", "type": "quantitative", "stack": null, "scale": {"type": "linear", "domain": [0, 25], "range": [0, 179], "nice": false, "zero": true}}, "radius2": {"field": "r0"},
      "color": {"field": "key", "type": "nominal", "scale": {"domain": ["c6", "c5", "c4", "c3", "c2", "c1"], "range": ["#00ffff", "#008000", "#0000ff", "#ff0000", "#ffff00", "#c0dcc0"]},
       "legend": {"orient": "none", "legendX": 498, "legendY": 42, "title": ["WIND SPEED", "(m/s)"], "titleFontSize": 15, "titleLineHeight": 19, "titlePadding": 16, "labelFontSize": 14, "symbolSize": 300, "symbolType": "M-1,-1H2.1V1H-1Z", "labelOffset": 27, "rowPadding": 2.5, "labelExpr": "datum.label == 'c6' ? '>=\u00a0\u00a06.0' : datum.label == 'c5' ? '\u00a05.0 -\u00a0\u00a06.0' : datum.label == 'c4' ? '\u00a04.0 -\u00a0\u00a05.0' : datum.label == 'c3' ? '\u00a03.0 -\u00a0\u00a04.0' : datum.label == 'c2' ? '\u00a02.0 -\u00a0\u00a03.0' : '\u00a00.5 -\u00a0\u00a02.0'"}}}},
    {"data": {"values": [{}]}, "mark": {"type": "point", "shape": "circle", "size": 36, "filled": true, "fill": "#ffffff", "stroke": "#000000", "strokeWidth": 1, "opacity": 1}},
    {"data": {"name": "rings"}, "transform": [{"filter": "datum.m == 8 && datum.s == 'I'"}], "mark": {"type": "text", "align": "right", "baseline": "middle", "fontSize": 7.5, "color": "#333333", "dx": -1}, "encoding": {"theta": {"datum": 55, "type": "quantitative", "scale": {"domain": [0, 360], "range": [0, 6.283185307179586], "nice": false, "zero": false}}, "radius": {"field": "r", "type": "quantitative", "scale": {"type": "linear", "domain": [0, 25], "range": [0, 179], "nice": false, "zero": true}}, "text": {"field": "lab"}}},
    {"data": {"name": "dirs"}, "mark": {"type": "text", "fontSize": 7.5, "color": "#333333", "align": {"expr": "datum.t == 'EAST' ? 'right' : 'left'"}, "baseline": {"expr": "datum.t == 'SOUTH' ? 'bottom' : 'top'"}, "dx": {"expr": "datum.t == 'EAST' ? -3 : 3"}, "dy": {"expr": "datum.t == 'SOUTH' ? -2 : 3"}}, "encoding": {"theta": {"field": "d", "type": "quantitative", "scale": {"domain": [0, 360], "range": [0, 6.283185307179586], "nice": false, "zero": false}}, "radius": {"datum": 25, "type": "quantitative", "scale": {"type": "linear", "domain": [0, 25], "range": [0, 179], "nice": false, "zero": true}}, "text": {"field": "t"}}},
    {"data": {"name": "info"}, "transform": [{"filter": "datum.m == 8 && datum.s == 'I'"}], "mark": {"type": "text", "align": "left", "baseline": "middle", "fontSize": 14}, "encoding": {"x": {"datum": 0.773, "type": "quantitative", "scale": {"domain": [0, 1], "nice": false, "zero": false}}, "y": {"datum": 0.559, "type": "quantitative", "scale": {"domain": [0, 1], "nice": false, "zero": false, "reverse": true}}, "text": {"field": "calm"}}},
    {"data": {"values": [{}]}, "mark": {"type": "text", "text": "AVG. WIND SPEED:", "align": "left", "baseline": "middle", "fontSize": 16}, "encoding": {"x": {"datum": 0.748, "type": "quantitative", "scale": {"domain": [0, 1], "nice": false, "zero": false}}, "y": {"datum": 0.654, "type": "quantitative", "scale": {"domain": [0, 1], "nice": false, "zero": false, "reverse": true}}}},
    {"data": {"name": "info"}, "transform": [{"filter": "datum.m == 8 && datum.s == 'I'"}], "mark": {"type": "text", "align": "left", "baseline": "middle", "fontSize": 25, "fontWeight": "bold", "color": "#111111"}, "encoding": {"x": {"datum": 0.748, "type": "quantitative", "scale": {"domain": [0, 1], "nice": false, "zero": false}}, "y": {"datum": 0.769, "type": "quantitative", "scale": {"domain": [0, 1], "nice": false, "zero": false, "reverse": true}}, "text": {"field": "avg"}}}
   ]},
  {"width": 586, "height": 455,
   "encoding": {"x": {"datum": 0.362, "type": "quantitative", "scale": {"domain": [0, 1], "nice": false, "zero": false}}, "y": {"datum": 0.453, "type": "quantitative", "scale": {"domain": [0, 1], "nice": false, "zero": false, "reverse": true}}},
   "layer": [
    {"data": {"name": "rings"}, "transform": [{"filter": "datum.m == 8 && datum.s == 'M'"}], "mark": {"type": "arc", "theta": 0, "theta2": 6.2832, "filled": false, "stroke": "#3c3caa", "strokeWidth": 1, "strokeDash": [2, 2]}, "encoding": {"radius": {"field": "r", "type": "quantitative", "stack": null, "scale": {"type": "linear", "domain": [0, 30], "range": [0, 170], "nice": false, "zero": true}}}},
    {"data": {"name": "dirs"}, "mark": {"type": "arc", "filled": false, "stroke": "#3c3caa", "strokeWidth": 1, "strokeDash": [1.2, 2.8]}, "encoding": {"theta": {"field": "d", "type": "quantitative", "stack": null, "scale": {"domain": [0, 360], "range": [0, 6.283185307179586], "nice": false, "zero": false}}, "theta2": {"field": "d"}, "radius": {"datum": 30, "type": "quantitative", "scale": {"type": "linear", "domain": [0, 30], "range": [0, 170], "nice": false, "zero": true}}, "radius2": {"datum": 0}}},
    {"data": {"name": "wind"}, "transform": [{"filter": "datum.m == 8 && datum.s == 'M'"}, {"fold": ["c1", "c2", "c3", "c4", "c5", "c6"], "as": ["key", "f"]}, {"filter": "datum.f > 0"}, {"lookup": "d", "from": {"data": {"name": "sectors"}, "key": "d", "fields": ["a0", "a1"]}}, {"stack": "f", "groupby": ["d"], "sort": [{"field": "key", "order": "ascending"}], "as": ["r0", "r1"]}],
     "mark": {"type": "arc", "stroke": "#000000", "strokeWidth": 0.8},
     "encoding": {"theta": {"field": "a0", "type": "quantitative", "stack": null, "scale": {"domain": [0, 360], "range": [0, 6.283185307179586], "nice": false, "zero": false}}, "theta2": {"field": "a1"}, "radius": {"field": "r1", "type": "quantitative", "stack": null, "scale": {"type": "linear", "domain": [0, 30], "range": [0, 170], "nice": false, "zero": true}}, "radius2": {"field": "r0"},
      "color": {"field": "key", "type": "nominal", "scale": {"domain": ["c6", "c5", "c4", "c3", "c2", "c1"], "range": ["#00ffff", "#008000", "#0000ff", "#ff0000", "#ffff00", "#c0dcc0"]},
       "legend": {"orient": "none", "legendX": 437, "legendY": 25, "title": ["WIND SPEED", "(m/s)"], "titleFontSize": 17.5, "titleLineHeight": 21, "titlePadding": 19, "labelFontSize": 16, "symbolSize": 462, "symbolType": "M-1,-1H2V1H-1Z", "labelOffset": 25.5, "rowPadding": 1.9, "labelExpr": "datum.label == 'c6' ? '>=\u00a0\u00a06.0' : datum.label == 'c5' ? '\u00a05.0 -\u00a0\u00a06.0' : datum.label == 'c4' ? '\u00a04.0 -\u00a0\u00a05.0' : datum.label == 'c3' ? '\u00a03.0 -\u00a0\u00a04.0' : datum.label == 'c2' ? '\u00a02.0 -\u00a0\u00a03.0' : '\u00a00.5 -\u00a0\u00a02.0'"}}}},
    {"data": {"values": [{}]}, "mark": {"type": "point", "shape": "circle", "size": 36, "filled": true, "fill": "#ffffff", "stroke": "#000000", "strokeWidth": 1, "opacity": 1}},
    {"data": {"name": "rings"}, "transform": [{"filter": "datum.m == 8 && datum.s == 'M'"}], "mark": {"type": "text", "align": "right", "baseline": "middle", "fontSize": 7.5, "color": "#333333", "dx": -1}, "encoding": {"theta": {"datum": 55, "type": "quantitative", "scale": {"domain": [0, 360], "range": [0, 6.283185307179586], "nice": false, "zero": false}}, "radius": {"field": "r", "type": "quantitative", "scale": {"type": "linear", "domain": [0, 30], "range": [0, 170], "nice": false, "zero": true}}, "text": {"field": "lab"}}},
    {"data": {"name": "dirs"}, "mark": {"type": "text", "fontSize": 7.5, "color": "#333333", "align": {"expr": "datum.t == 'EAST' ? 'right' : 'left'"}, "baseline": {"expr": "datum.t == 'SOUTH' ? 'bottom' : 'top'"}, "dx": {"expr": "datum.t == 'EAST' ? -3 : 3"}, "dy": {"expr": "datum.t == 'SOUTH' ? -2 : 3"}}, "encoding": {"theta": {"field": "d", "type": "quantitative", "scale": {"domain": [0, 360], "range": [0, 6.283185307179586], "nice": false, "zero": false}}, "radius": {"datum": 30, "type": "quantitative", "scale": {"type": "linear", "domain": [0, 30], "range": [0, 170], "nice": false, "zero": true}}, "text": {"field": "t"}}},
    {"data": {"name": "info"}, "transform": [{"filter": "datum.m == 8 && datum.s == 'M'"}], "mark": {"type": "text", "align": "left", "baseline": "middle", "fontSize": 15}, "encoding": {"x": {"datum": 0.746, "type": "quantitative", "scale": {"domain": [0, 1], "nice": false, "zero": false}}, "y": {"datum": 0.592, "type": "quantitative", "scale": {"domain": [0, 1], "nice": false, "zero": false, "reverse": true}}, "text": {"field": "calm"}}},
    {"data": {"values": [{}]}, "mark": {"type": "text", "text": "AVG. WIND SPEED:", "align": "left", "baseline": "middle", "fontSize": 14}, "encoding": {"x": {"datum": 0.7065, "type": "quantitative", "scale": {"domain": [0, 1], "nice": false, "zero": false}}, "y": {"datum": 0.669, "type": "quantitative", "scale": {"domain": [0, 1], "nice": false, "zero": false, "reverse": true}}}},
    {"data": {"name": "info"}, "transform": [{"filter": "datum.m == 8 && datum.s == 'M'"}], "mark": {"type": "text", "align": "left", "baseline": "middle", "fontSize": 22, "fontWeight": "bold", "color": "#111111"}, "encoding": {"x": {"datum": 0.7065, "type": "quantitative", "scale": {"domain": [0, 1], "nice": false, "zero": false}}, "y": {"datum": 0.766, "type": "quantitative", "scale": {"domain": [0, 1], "nice": false, "zero": false, "reverse": true}}, "text": {"field": "avg"}}}
   ]},

  {"width": 183, "height": 377, "data": {"values": [{"t": "ก.ย. 54"}]}, "mark": {"type": "text", "align": "left", "baseline": "middle", "dx": 14, "font": "sans-serif", "fontSize": 25, "color": "#000000"}, "encoding": {"x": {"datum": 0, "type": "quantitative", "scale": {"domain": [0, 1], "nice": false, "zero": false}}, "y": {"datum": 0.0716, "type": "quantitative", "scale": {"domain": [0, 1], "nice": false, "zero": false, "reverse": true}}, "text": {"field": "t"}}},
  {"width": 681, "height": 377,
   "encoding": {"x": {"datum": 0.351, "type": "quantitative", "scale": {"domain": [0, 1], "nice": false, "zero": false}}, "y": {"datum": 0.493, "type": "quantitative", "scale": {"domain": [0, 1], "nice": false, "zero": false, "reverse": true}}},
   "layer": [
    {"data": {"name": "rings"}, "transform": [{"filter": "datum.m == 9 && datum.s == 'G'"}], "mark": {"type": "arc", "theta": 0, "theta2": 6.2832, "filled": false, "stroke": "#3c3caa", "strokeWidth": 1, "strokeDash": [2, 2]}, "encoding": {"radius": {"field": "r", "type": "quantitative", "stack": null, "scale": {"type": "linear", "domain": [0, 40], "range": [0, 172], "nice": false, "zero": true}}}},
    {"data": {"name": "dirs"}, "mark": {"type": "arc", "filled": false, "stroke": "#3c3caa", "strokeWidth": 1, "strokeDash": [1.2, 2.8]}, "encoding": {"theta": {"field": "d", "type": "quantitative", "stack": null, "scale": {"domain": [0, 360], "range": [0, 6.283185307179586], "nice": false, "zero": false}}, "theta2": {"field": "d"}, "radius": {"datum": 40, "type": "quantitative", "scale": {"type": "linear", "domain": [0, 40], "range": [0, 172], "nice": false, "zero": true}}, "radius2": {"datum": 0}}},
    {"data": {"name": "wind"}, "transform": [{"filter": "datum.m == 9 && datum.s == 'G'"}, {"fold": ["c1", "c2", "c3", "c4", "c5", "c6"], "as": ["key", "f"]}, {"filter": "datum.f > 0"}, {"lookup": "d", "from": {"data": {"name": "sectors"}, "key": "d", "fields": ["a0", "a1"]}}, {"stack": "f", "groupby": ["d"], "sort": [{"field": "key", "order": "ascending"}], "as": ["r0", "r1"]}],
     "mark": {"type": "arc", "stroke": "#000000", "strokeWidth": 0.8},
     "encoding": {"theta": {"field": "a0", "type": "quantitative", "stack": null, "scale": {"domain": [0, 360], "range": [0, 6.283185307179586], "nice": false, "zero": false}}, "theta2": {"field": "a1"}, "radius": {"field": "r1", "type": "quantitative", "stack": null, "scale": {"type": "linear", "domain": [0, 40], "range": [0, 172], "nice": false, "zero": true}}, "radius2": {"field": "r0"},
      "color": {"field": "key", "type": "nominal", "scale": {"domain": ["c6", "c5", "c4", "c3", "c2", "c1"], "range": ["#00ffff", "#008000", "#0000ff", "#ff0000", "#ffff00", "#c0dcc0"]},
       "legend": {"orient": "none", "legendX": 491.6, "legendY": 25, "title": ["WIND SPEED", "(m/s)"], "titleFontSize": 17.5, "titleLineHeight": 21, "titlePadding": 20, "labelFontSize": 16, "symbolSize": 462, "symbolType": "M-1,-1H2V1H-1Z", "labelOffset": 25.5, "rowPadding": 2.4, "labelExpr": "datum.label == 'c6' ? '>=\u00a0\u00a06.0' : datum.label == 'c5' ? '\u00a05.0 -\u00a0\u00a06.0' : datum.label == 'c4' ? '\u00a04.0 -\u00a0\u00a05.0' : datum.label == 'c3' ? '\u00a03.0 -\u00a0\u00a04.0' : datum.label == 'c2' ? '\u00a02.0 -\u00a0\u00a03.0' : '\u00a00.5 -\u00a0\u00a02.0'"}}}},
    {"data": {"values": [{}]}, "mark": {"type": "point", "shape": "circle", "size": 36, "filled": true, "fill": "#ffffff", "stroke": "#000000", "strokeWidth": 1, "opacity": 1}},
    {"data": {"name": "rings"}, "transform": [{"filter": "datum.m == 9 && datum.s == 'G'"}], "mark": {"type": "text", "align": "right", "baseline": "middle", "fontSize": 7.5, "color": "#333333", "dx": -1}, "encoding": {"theta": {"datum": 55, "type": "quantitative", "scale": {"domain": [0, 360], "range": [0, 6.283185307179586], "nice": false, "zero": false}}, "radius": {"field": "r", "type": "quantitative", "scale": {"type": "linear", "domain": [0, 40], "range": [0, 172], "nice": false, "zero": true}}, "text": {"field": "lab"}}},
    {"data": {"name": "dirs"}, "mark": {"type": "text", "fontSize": 7.5, "color": "#333333", "align": {"expr": "datum.t == 'EAST' ? 'right' : 'left'"}, "baseline": {"expr": "datum.t == 'SOUTH' ? 'bottom' : 'top'"}, "dx": {"expr": "datum.t == 'EAST' ? -3 : 3"}, "dy": {"expr": "datum.t == 'SOUTH' ? -2 : 3"}}, "encoding": {"theta": {"field": "d", "type": "quantitative", "scale": {"domain": [0, 360], "range": [0, 6.283185307179586], "nice": false, "zero": false}}, "radius": {"datum": 40, "type": "quantitative", "scale": {"type": "linear", "domain": [0, 40], "range": [0, 172], "nice": false, "zero": true}}, "text": {"field": "t"}}},
    {"data": {"name": "info"}, "transform": [{"filter": "datum.m == 9 && datum.s == 'G'"}], "mark": {"type": "text", "align": "left", "baseline": "middle", "fontSize": 15}, "encoding": {"x": {"datum": 0.721, "type": "quantitative", "scale": {"domain": [0, 1], "nice": false, "zero": false}}, "y": {"datum": 0.7175, "type": "quantitative", "scale": {"domain": [0, 1], "nice": false, "zero": false, "reverse": true}}, "text": {"field": "calm"}}},
    {"data": {"values": [{}]}, "mark": {"type": "text", "text": "AVG. WIND SPEED:", "align": "left", "baseline": "middle", "fontSize": 12.5}, "encoding": {"x": {"datum": 0.6745, "type": "quantitative", "scale": {"domain": [0, 1], "nice": false, "zero": false}}, "y": {"datum": 0.789, "type": "quantitative", "scale": {"domain": [0, 1], "nice": false, "zero": false, "reverse": true}}}},
    {"data": {"name": "info"}, "transform": [{"filter": "datum.m == 9 && datum.s == 'G'"}], "mark": {"type": "text", "align": "left", "baseline": "middle", "fontSize": 20, "fontWeight": "bold", "color": "#111111"}, "encoding": {"x": {"datum": 0.6745, "type": "quantitative", "scale": {"domain": [0, 1], "nice": false, "zero": false}}, "y": {"datum": 0.892, "type": "quantitative", "scale": {"domain": [0, 1], "nice": false, "zero": false, "reverse": true}}, "text": {"field": "avg"}}}
   ]},
  {"width": 644, "height": 377,
   "encoding": {"x": {"datum": 0.39, "type": "quantitative", "scale": {"domain": [0, 1], "nice": false, "zero": false}}, "y": {"datum": 0.515, "type": "quantitative", "scale": {"domain": [0, 1], "nice": false, "zero": false, "reverse": true}}},
   "layer": [
    {"data": {"name": "rings"}, "transform": [{"filter": "datum.m == 9 && datum.s == 'I'"}], "mark": {"type": "arc", "theta": 0, "theta2": 6.2832, "filled": false, "stroke": "#3c3caa", "strokeWidth": 1, "strokeDash": [2, 2]}, "encoding": {"radius": {"field": "r", "type": "quantitative", "stack": null, "scale": {"type": "linear", "domain": [0, 30], "range": [0, 163], "nice": false, "zero": true}}}},
    {"data": {"name": "dirs"}, "mark": {"type": "arc", "filled": false, "stroke": "#3c3caa", "strokeWidth": 1, "strokeDash": [1.2, 2.8]}, "encoding": {"theta": {"field": "d", "type": "quantitative", "stack": null, "scale": {"domain": [0, 360], "range": [0, 6.283185307179586], "nice": false, "zero": false}}, "theta2": {"field": "d"}, "radius": {"datum": 30, "type": "quantitative", "scale": {"type": "linear", "domain": [0, 30], "range": [0, 163], "nice": false, "zero": true}}, "radius2": {"datum": 0}}},
    {"data": {"name": "wind"}, "transform": [{"filter": "datum.m == 9 && datum.s == 'I'"}, {"fold": ["c1", "c2", "c3", "c4", "c5", "c6"], "as": ["key", "f"]}, {"filter": "datum.f > 0"}, {"lookup": "d", "from": {"data": {"name": "sectors"}, "key": "d", "fields": ["a0", "a1"]}}, {"stack": "f", "groupby": ["d"], "sort": [{"field": "key", "order": "ascending"}], "as": ["r0", "r1"]}],
     "mark": {"type": "arc", "stroke": "#000000", "strokeWidth": 0.8},
     "encoding": {"theta": {"field": "a0", "type": "quantitative", "stack": null, "scale": {"domain": [0, 360], "range": [0, 6.283185307179586], "nice": false, "zero": false}}, "theta2": {"field": "a1"}, "radius": {"field": "r1", "type": "quantitative", "stack": null, "scale": {"type": "linear", "domain": [0, 30], "range": [0, 163], "nice": false, "zero": true}}, "radius2": {"field": "r0"},
      "color": {"field": "key", "type": "nominal", "scale": {"domain": ["c6", "c5", "c4", "c3", "c2", "c1"], "range": ["#00ffff", "#008000", "#0000ff", "#ff0000", "#ffff00", "#c0dcc0"]},
       "legend": {"orient": "none", "legendX": 484.8, "legendY": 20, "title": ["WIND SPEED", "(m/s)"], "titleFontSize": 17, "titleLineHeight": 20.5, "titlePadding": 19, "labelFontSize": 15.5, "symbolSize": 462, "symbolType": "M-1,-1H2V1H-1Z", "labelOffset": 24, "rowPadding": 2.2, "labelExpr": "datum.label == 'c6' ? '>=\u00a0\u00a06.0' : datum.label == 'c5' ? '\u00a05.0 -\u00a0\u00a06.0' : datum.label == 'c4' ? '\u00a04.0 -\u00a0\u00a05.0' : datum.label == 'c3' ? '\u00a03.0 -\u00a0\u00a04.0' : datum.label == 'c2' ? '\u00a02.0 -\u00a0\u00a03.0' : '\u00a00.5 -\u00a0\u00a02.0'"}}}},
    {"data": {"values": [{}]}, "mark": {"type": "point", "shape": "circle", "size": 36, "filled": true, "fill": "#ffffff", "stroke": "#000000", "strokeWidth": 1, "opacity": 1}},
    {"data": {"name": "rings"}, "transform": [{"filter": "datum.m == 9 && datum.s == 'I'"}], "mark": {"type": "text", "align": "right", "baseline": "middle", "fontSize": 7.5, "color": "#333333", "dx": -1}, "encoding": {"theta": {"datum": 55, "type": "quantitative", "scale": {"domain": [0, 360], "range": [0, 6.283185307179586], "nice": false, "zero": false}}, "radius": {"field": "r", "type": "quantitative", "scale": {"type": "linear", "domain": [0, 30], "range": [0, 163], "nice": false, "zero": true}}, "text": {"field": "lab"}}},
    {"data": {"name": "dirs"}, "mark": {"type": "text", "fontSize": 7.5, "color": "#333333", "align": {"expr": "datum.t == 'EAST' ? 'right' : 'left'"}, "baseline": {"expr": "datum.t == 'SOUTH' ? 'bottom' : 'top'"}, "dx": {"expr": "datum.t == 'EAST' ? -3 : 3"}, "dy": {"expr": "datum.t == 'SOUTH' ? -2 : 3"}}, "encoding": {"theta": {"field": "d", "type": "quantitative", "scale": {"domain": [0, 360], "range": [0, 6.283185307179586], "nice": false, "zero": false}}, "radius": {"datum": 30, "type": "quantitative", "scale": {"type": "linear", "domain": [0, 30], "range": [0, 163], "nice": false, "zero": true}}, "text": {"field": "t"}}},
    {"data": {"name": "info"}, "transform": [{"filter": "datum.m == 9 && datum.s == 'I'"}], "mark": {"type": "text", "align": "left", "baseline": "middle", "fontSize": 15}, "encoding": {"x": {"datum": 0.753, "type": "quantitative", "scale": {"domain": [0, 1], "nice": false, "zero": false}}, "y": {"datum": 0.696, "type": "quantitative", "scale": {"domain": [0, 1], "nice": false, "zero": false, "reverse": true}}, "text": {"field": "calm"}}},
    {"data": {"values": [{}]}, "mark": {"type": "text", "text": "AVG. WIND SPEED:", "align": "left", "baseline": "middle", "fontSize": 13.5}, "encoding": {"x": {"datum": 0.7006, "type": "quantitative", "scale": {"domain": [0, 1], "nice": false, "zero": false}}, "y": {"datum": 0.796, "type": "quantitative", "scale": {"domain": [0, 1], "nice": false, "zero": false, "reverse": true}}}},
    {"data": {"name": "info"}, "transform": [{"filter": "datum.m == 9 && datum.s == 'I'"}], "mark": {"type": "text", "align": "left", "baseline": "middle", "fontSize": 21, "fontWeight": "bold", "color": "#111111"}, "encoding": {"x": {"datum": 0.7006, "type": "quantitative", "scale": {"domain": [0, 1], "nice": false, "zero": false}}, "y": {"datum": 0.917, "type": "quantitative", "scale": {"domain": [0, 1], "nice": false, "zero": false, "reverse": true}}, "text": {"field": "avg"}}}
   ]},
  {"width": 586, "height": 377,
   "encoding": {"x": {"datum": 0.382, "type": "quantitative", "scale": {"domain": [0, 1], "nice": false, "zero": false}}, "y": {"datum": 0.533, "type": "quantitative", "scale": {"domain": [0, 1], "nice": false, "zero": false, "reverse": true}}},
   "layer": [
    {"data": {"name": "rings"}, "transform": [{"filter": "datum.m == 9 && datum.s == 'M'"}], "mark": {"type": "arc", "theta": 0, "theta2": 6.2832, "filled": false, "stroke": "#3c3caa", "strokeWidth": 1, "strokeDash": [2, 2]}, "encoding": {"radius": {"field": "r", "type": "quantitative", "stack": null, "scale": {"type": "linear", "domain": [0, 35], "range": [0, 174], "nice": false, "zero": true}}}},
    {"data": {"name": "dirs"}, "mark": {"type": "arc", "filled": false, "stroke": "#3c3caa", "strokeWidth": 1, "strokeDash": [1.2, 2.8]}, "encoding": {"theta": {"field": "d", "type": "quantitative", "stack": null, "scale": {"domain": [0, 360], "range": [0, 6.283185307179586], "nice": false, "zero": false}}, "theta2": {"field": "d"}, "radius": {"datum": 35, "type": "quantitative", "scale": {"type": "linear", "domain": [0, 35], "range": [0, 174], "nice": false, "zero": true}}, "radius2": {"datum": 0}}},
    {"data": {"name": "wind"}, "transform": [{"filter": "datum.m == 9 && datum.s == 'M'"}, {"fold": ["c1", "c2", "c3", "c4", "c5", "c6"], "as": ["key", "f"]}, {"filter": "datum.f > 0"}, {"lookup": "d", "from": {"data": {"name": "sectors"}, "key": "d", "fields": ["a0", "a1"]}}, {"stack": "f", "groupby": ["d"], "sort": [{"field": "key", "order": "ascending"}], "as": ["r0", "r1"]}],
     "mark": {"type": "arc", "stroke": "#000000", "strokeWidth": 0.8},
     "encoding": {"theta": {"field": "a0", "type": "quantitative", "stack": null, "scale": {"domain": [0, 360], "range": [0, 6.283185307179586], "nice": false, "zero": false}}, "theta2": {"field": "a1"}, "radius": {"field": "r1", "type": "quantitative", "stack": null, "scale": {"type": "linear", "domain": [0, 35], "range": [0, 174], "nice": false, "zero": true}}, "radius2": {"field": "r0"},
      "color": {"field": "key", "type": "nominal", "scale": {"domain": ["c6", "c5", "c4", "c3", "c2", "c1"], "range": ["#00ffff", "#008000", "#0000ff", "#ff0000", "#ffff00", "#c0dcc0"]},
       "legend": {"orient": "none", "legendX": 437, "legendY": 17, "title": ["WIND SPEED", "(m/s)"], "titleFontSize": 17, "titleLineHeight": 20.5, "titlePadding": 18, "labelFontSize": 15.5, "symbolSize": 462, "symbolType": "M-1,-1H2V1H-1Z", "labelOffset": 28, "rowPadding": 1.6, "labelExpr": "datum.label == 'c6' ? '>=\u00a0\u00a06.0' : datum.label == 'c5' ? '\u00a05.0 -\u00a0\u00a06.0' : datum.label == 'c4' ? '\u00a04.0 -\u00a0\u00a05.0' : datum.label == 'c3' ? '\u00a03.0 -\u00a0\u00a04.0' : datum.label == 'c2' ? '\u00a02.0 -\u00a0\u00a03.0' : '\u00a00.5 -\u00a0\u00a02.0'"}}}},
    {"data": {"values": [{}]}, "mark": {"type": "point", "shape": "circle", "size": 36, "filled": true, "fill": "#ffffff", "stroke": "#000000", "strokeWidth": 1, "opacity": 1}},
    {"data": {"name": "rings"}, "transform": [{"filter": "datum.m == 9 && datum.s == 'M'"}], "mark": {"type": "text", "align": "right", "baseline": "middle", "fontSize": 7.5, "color": "#333333", "dx": -1}, "encoding": {"theta": {"datum": 55, "type": "quantitative", "scale": {"domain": [0, 360], "range": [0, 6.283185307179586], "nice": false, "zero": false}}, "radius": {"field": "r", "type": "quantitative", "scale": {"type": "linear", "domain": [0, 35], "range": [0, 174], "nice": false, "zero": true}}, "text": {"field": "lab"}}},
    {"data": {"name": "dirs"}, "mark": {"type": "text", "fontSize": 7.5, "color": "#333333", "align": {"expr": "datum.t == 'EAST' ? 'right' : 'left'"}, "baseline": {"expr": "datum.t == 'SOUTH' ? 'bottom' : 'top'"}, "dx": {"expr": "datum.t == 'EAST' ? -3 : 3"}, "dy": {"expr": "datum.t == 'SOUTH' ? -2 : 3"}}, "encoding": {"theta": {"field": "d", "type": "quantitative", "scale": {"domain": [0, 360], "range": [0, 6.283185307179586], "nice": false, "zero": false}}, "radius": {"datum": 35, "type": "quantitative", "scale": {"type": "linear", "domain": [0, 35], "range": [0, 174], "nice": false, "zero": true}}, "text": {"field": "t"}}},
    {"data": {"name": "info"}, "transform": [{"filter": "datum.m == 9 && datum.s == 'M'"}], "mark": {"type": "text", "align": "left", "baseline": "middle", "fontSize": 15}, "encoding": {"x": {"datum": 0.746, "type": "quantitative", "scale": {"domain": [0, 1], "nice": false, "zero": false}}, "y": {"datum": 0.6745, "type": "quantitative", "scale": {"domain": [0, 1], "nice": false, "zero": false, "reverse": true}}, "text": {"field": "calm"}}},
    {"data": {"values": [{}]}, "mark": {"type": "text", "text": "AVG. WIND SPEED:", "align": "left", "baseline": "middle", "fontSize": 13.5}, "encoding": {"x": {"datum": 0.695, "type": "quantitative", "scale": {"domain": [0, 1], "nice": false, "zero": false}}, "y": {"datum": 0.753, "type": "quantitative", "scale": {"domain": [0, 1], "nice": false, "zero": false, "reverse": true}}}},
    {"data": {"name": "info"}, "transform": [{"filter": "datum.m == 9 && datum.s == 'M'"}], "mark": {"type": "text", "align": "left", "baseline": "middle", "fontSize": 21, "fontWeight": "bold", "color": "#111111"}, "encoding": {"x": {"datum": 0.695, "type": "quantitative", "scale": {"domain": [0, 1], "nice": false, "zero": false}}, "y": {"datum": 0.871, "type": "quantitative", "scale": {"domain": [0, 1], "nice": false, "zero": false, "reverse": true}}, "text": {"field": "avg"}}}
   ]}
]
}
